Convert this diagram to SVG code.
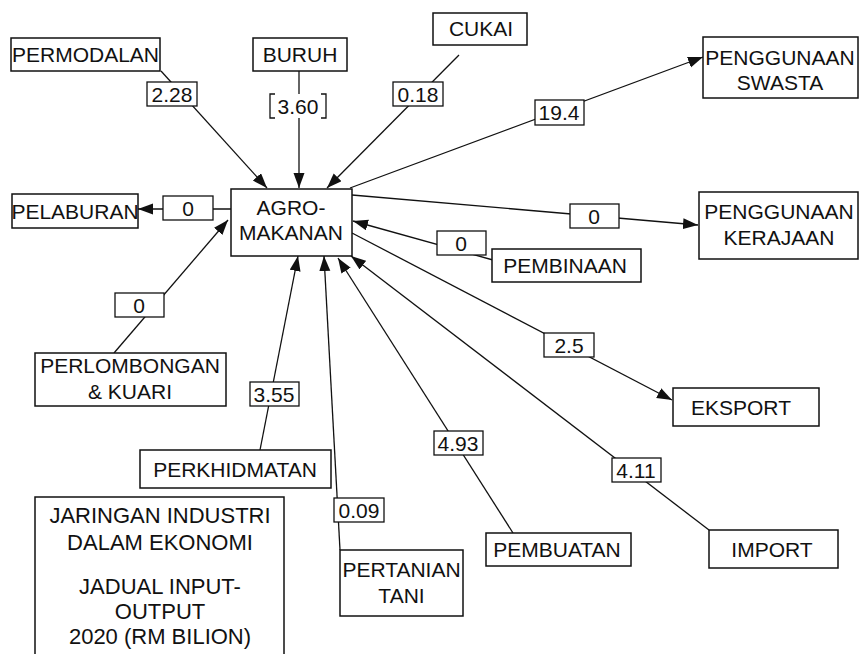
<svg xmlns="http://www.w3.org/2000/svg" width="859" height="654" viewBox="0 0 859 654">
<style>
.box{fill:#fff;stroke:#111;stroke-width:1.5}
.lbl{fill:#fff;stroke:#111;stroke-width:1.3}
.ln{fill:none;stroke:#111;stroke-width:1.3}
text{font-family:"Liberation Sans",Arial,sans-serif;font-size:21px;fill:#111;text-anchor:middle}
.lg{font-size:22px}
</style>
<defs>
<marker id="arr" markerUnits="userSpaceOnUse" markerWidth="16" markerHeight="12" refX="15" refY="5.5" orient="auto">
<path d="M0,0 L15,5.5 L0,11 z" fill="#111"/>
</marker>
</defs>
<rect width="859" height="654" fill="#fff"/>
<g id="connectors">
<line class="ln" x1="161" y1="71" x2="267" y2="188" marker-end="url(#arr)"/>
<line class="ln" x1="299" y1="71" x2="299" y2="188" marker-end="url(#arr)"/>
<line class="ln" x1="459" y1="55" x2="327" y2="188" marker-end="url(#arr)"/>
<line class="ln" x1="350" y1="188" x2="703" y2="57" marker-end="url(#arr)"/>
<line class="ln" x1="231" y1="209" x2="138" y2="209" marker-end="url(#arr)"/>
<line class="ln" x1="352" y1="195" x2="698" y2="225" marker-end="url(#arr)"/>
<line class="ln" x1="493" y1="260" x2="353" y2="221" marker-end="url(#arr)"/>
<line class="ln" x1="114" y1="353" x2="228" y2="220" marker-end="url(#arr)"/>
<line class="ln" x1="352" y1="233" x2="672" y2="400" marker-end="url(#arr)"/>
<line class="ln" x1="260" y1="450" x2="298" y2="256" marker-end="url(#arr)"/>
<line class="ln" x1="340" y1="550" x2="324" y2="256" marker-end="url(#arr)"/>
<line class="ln" x1="513" y1="533" x2="338" y2="258" marker-end="url(#arr)"/>
<line class="ln" x1="709" y1="530" x2="351" y2="256" marker-end="url(#arr)"/>
</g>
<g id="labels">
<g id="l-228"><rect class="lbl" x="147" y="82" width="50" height="24"/><text x="172" y="102">2.28</text></g>
<g id="l-360"><rect x="270" y="94" width="56" height="24" fill="#fff"/><path class="ln" d="M275,94 H270 V118 H275 M321,94 H326 V118 H321"/><text x="298" y="114">3.60</text></g>
<g id="l-018"><rect class="lbl" x="393" y="82" width="50" height="24"/><text x="418" y="102">0.18</text></g>
<g id="l-194"><rect class="lbl" x="535" y="100" width="49" height="25"/><text x="559" y="120">19.4</text></g>
<g id="l-0a"><rect class="lbl" x="163" y="196" width="50" height="24"/><text x="188" y="216">0</text></g>
<g id="l-0b"><rect class="lbl" x="570" y="204" width="49" height="24"/><text x="594" y="224">0</text></g>
<g id="l-0c"><rect class="lbl" x="437" y="231" width="49" height="24"/><text x="461" y="251">0</text></g>
<g id="l-0d"><rect class="lbl" x="115" y="293" width="49" height="24"/><text x="139" y="313">0</text></g>
<g id="l-25"><rect class="lbl" x="544" y="333" width="50" height="24"/><text x="569" y="353">2.5</text></g>
<g id="l-355"><rect class="lbl" x="250" y="382" width="49" height="24"/><text x="274" y="402">3.55</text></g>
<g id="l-493"><rect class="lbl" x="434" y="431" width="49" height="24"/><text x="458" y="451">4.93</text></g>
<g id="l-411"><rect class="lbl" x="612" y="458" width="49" height="24"/><text x="636" y="478">4.11</text></g>
<g id="l-009"><rect class="lbl" x="334" y="498" width="50" height="24"/><text x="359" y="518">0.09</text></g>
</g>
<g id="agro"><rect class="box" x="231" y="189" width="121" height="67"/><text x="291" y="215">AGRO-</text><text x="291" y="240">MAKANAN</text></g>
<g id="permodalan"><rect class="box" x="11" y="38" width="149" height="33"/><text x="85.5" y="62">PERMODALAN</text></g>
<g id="buruh"><rect class="box" x="253" y="38" width="94" height="33"/><text x="300" y="62">BURUH</text></g>
<g id="cukai"><rect class="box" x="433" y="13" width="94" height="32"/><text x="481" y="36">CUKAI</text></g>
<g id="swasta"><rect class="box" x="703" y="37" width="155" height="61"/><text x="780" y="65">PENGGUNAAN</text><text x="780" y="90">SWASTA</text></g>
<g id="pelaburan"><rect class="box" x="12" y="194" width="126" height="34"/><text x="75" y="219">PELABURAN</text></g>
<g id="kerajaan"><rect class="box" x="699" y="192" width="159" height="67"/><text x="779" y="219">PENGGUNAAN</text><text x="779" y="245">KERAJAAN</text></g>
<g id="pembinaan"><rect class="box" x="492" y="249" width="149" height="33"/><text x="565" y="273">PEMBINAAN</text></g>
<g id="perlombongan"><rect class="box" x="35" y="353" width="191" height="53"/><text x="130" y="373">PERLOMBONGAN</text><text x="130" y="399">&amp; KUARI</text></g>
<g id="eksport"><rect class="box" x="673" y="388" width="146" height="38"/><text x="741" y="415">EKSPORT</text></g>
<g id="perkhidmatan"><rect class="box" x="140" y="450" width="191" height="38"/><text x="235" y="477">PERKHIDMATAN</text></g>
<g id="pertanian"><rect class="box" x="340" y="550" width="123" height="66"/><text x="401.5" y="577">PERTANIAN</text><text x="401.5" y="603">TANI</text></g>
<g id="pembuatan"><rect class="box" x="486" y="533" width="145" height="33"/><text x="557" y="557">PEMBUATAN</text></g>
<g id="import"><rect class="box" x="709" y="530" width="129" height="38"/><text x="772" y="557">IMPORT</text></g>
<g id="legend"><rect class="box" x="35" y="497" width="249" height="170"/>
<text class="lg" x="160" y="523">JARINGAN INDUSTRI</text>
<text class="lg" x="160" y="550">DALAM EKONOMI</text>
<text class="lg" x="160" y="594">JADUAL INPUT-</text>
<text class="lg" x="160" y="619">OUTPUT</text>
<text class="lg" x="160" y="644">2020 (RM BILION)</text>
</g>
</svg>
